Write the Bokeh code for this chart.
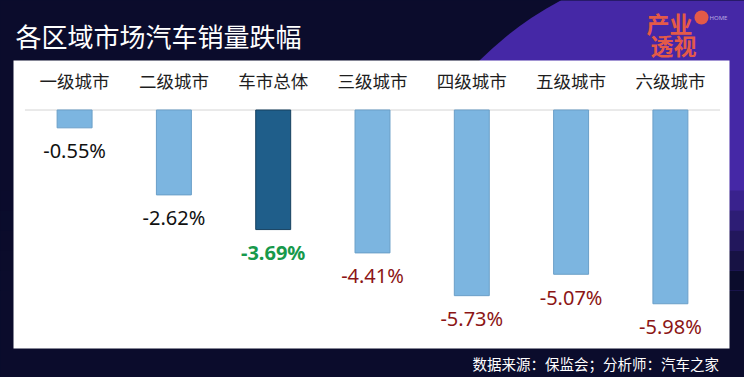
from bokeh.plotting import figure
from bokeh.models import ColumnDataSource, FactorRange, Range1d
from bokeh.core.properties import value
from bokeh.embed import file_html
from bokeh.resources import INLINE

# ---------------- data ----------------
categories = ["一级城市", "二级城市", "车市总体", "三级城市", "四级城市", "五级城市", "六级城市"]
declines = [-0.55, -2.62, -3.69, -4.41, -5.73, -5.07, -5.98]
title_text = "各区域市场汽车销量跌幅"
source_text = "数据来源：保监会；分析师：汽车之家"
logo_top = "产业"
logo_bottom = "透视"

# ---------------- style ----------------
W, H = 744, 377
BG = "#0b0c2c"
PURPLE = "#4528a6"
LIGHT, LIGHT_EDGE = "#7cb5e0", "#6a9fc8"
DARK, DARK_EDGE = "#1f5e8a", "#16405f"
CJK = value("Noto Sans CJK SC")
LAT = value("Noto Sans")
highlight = "车市总体"
black_labels = {"一级城市", "二级城市"}
PAD = 0.2462

fills, edges, tcolors, fstyles = [], [], [], []
for c in categories:
    if c == highlight:
        fills.append(DARK); edges.append(DARK_EDGE); tcolors.append("#17994b"); fstyles.append("bold")
    else:
        fills.append(LIGHT); edges.append(LIGHT_EDGE)
        tcolors.append("#111111" if c in black_labels else "#8c1515")
        fstyles.append("normal")

src = ColumnDataSource(dict(
    cat=categories, val=declines,
    label=[f"{v:.2f}%" for v in declines],
    fill=fills, edge=edges, tcolor=tcolors, fstyle=fstyles,
))

p = figure(
    width=W, height=H,
    x_range=FactorRange(*categories, range_padding=PAD, range_padding_units="absolute"),
    y_range=Range1d(-8.256, 3.380),
    x_axis_location=None, y_axis_location=None,
    output_backend="svg", toolbar_location=None,
    min_border=0, min_border_left=0, min_border_right=0, min_border_top=0, min_border_bottom=0,
    background_fill_color=BG, border_fill_color=BG, outline_line_color=None,
)
p.grid.visible = False
p.extra_y_ranges = {"px": Range1d(H, 0)}

# screen-pixel x -> synthetic factor coordinate (for decorations only)
X0, X1 = -PAD, len(categories) + PAD
def fx(px):
    return X0 + (X1 - X0) * px / W

PY = dict(y_range_name="px")

try:
    from bokeh.models import GlobalInlineStyleSheet
    p.stylesheets = [GlobalInlineStyleSheet(css="html, body { background: %s; overflow: hidden; }" % BG)]
except Exception:
    pass

# background decoration
p.circle(x=[fx(720)], y=[300], radius=340, radius_units="screen", fill_color=PURPLE,
         line_color=None, **PY)
band_edges = [190, 210, 230, 250, 270, 290]
for i in range(len(band_edges) - 1):
    p.quad(left=[fx(0)], right=[fx(W)], top=[band_edges[i]], bottom=[band_edges[i + 1]],
           fill_color=BG, fill_alpha=0.2 * (i + 1), line_color=None, **PY)
p.quad(left=[fx(0)], right=[fx(W)], top=[band_edges[-1]], bottom=[H], fill_color=BG,
       line_color=None, **PY)

# white panel
p.quad(left=[fx(13)], right=[fx(729)], top=[60], bottom=[348], fill_color="white",
       line_color=None, **PY)

# zero line
p.segment(x0=[0], x1=[len(categories)], y0=[0], y1=[0], line_color="#d4d4d4", line_width=1)

# bars
p.vbar(x="cat", top=0, bottom="val", width=0.352, fill_color="fill", line_color="edge",
       line_width=1, source=src)

# value labels
p.text(x="cat", y="val", text="label", text_color="tcolor", text_font_style="fstyle",
       y_offset=23, text_align="center", text_baseline="middle",
       text_font=LAT, text_font_size="20px", source=src)

# category labels
p.text(x=categories, y=[80] * len(categories), text=categories,
       text_align="center", text_baseline="middle", text_font=CJK,
       text_font_size="17.5px", text_color="#1e1e1e", **PY)

# title
p.text(x=[15], y=[35], text=[title_text], text_align="left", text_baseline="middle",
       text_font=CJK, text_font_size="26px", text_color="white", **PY)
p.renderers[-1].glyph.x = fx(15)

# footer
p.text(x=[fx(472)], y=[363], text=[source_text], text_align="left", text_baseline="middle",
       text_font=CJK, text_font_size="14.5px", text_color="white", **PY)

# logo
p.text(x=[fx(669)], y=[22], text=[logo_top], text_align="center", text_baseline="middle",
       text_font=CJK, text_font_size="23px", text_font_style="bold", text_color="#e45a48", **PY)
p.text(x=[fx(673)], y=[44], text=[logo_bottom], text_align="center", text_baseline="middle",
       text_font=CJK, text_font_size="23px", text_font_style="bold", text_color="#e45a48", **PY)
p.circle(x=[fx(701)], y=[17], radius=7, radius_units="screen", fill_color="#e45a48",
         line_color=None, **PY)
p.text(x=[fx(709)], y=[17], text=["HOME"], text_align="left", text_baseline="middle",
       text_font=LAT, text_font_size="6px", text_color="#b9a8e0", **PY)

open("out.html", "w").write(file_html(p, INLINE))
